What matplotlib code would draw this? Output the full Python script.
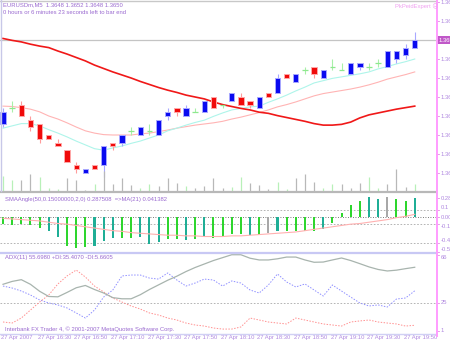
import matplotlib
matplotlib.use("Agg")
import matplotlib.pyplot as plt
from matplotlib.lines import Line2D

W, H = 450, 345

# EURUSDm M5 bars, 27 Apr 2007, 16:10 .. 19:55
opens = [1.3628, 1.3632, 1.3633, 1.3629, 1.3628, 1.3625, 1.3623, 1.3621, 1.3617, 1.3615,
         1.3617, 1.3617, 1.3623, 1.3623, 1.3626, 1.3625, 1.3626, 1.3625, 1.3630, 1.3632,
         1.3630, 1.3631, 1.3631, 1.3635, 1.3633, 1.3634, 1.3635, 1.3634, 1.3632, 1.3636,
         1.3636, 1.3641, 1.3639, 1.3642, 1.3643, 1.3640, 1.3643, 1.3642, 1.3641, 1.3643,
         1.3643, 1.3644, 1.3643, 1.3645, 1.3646, 1.3648]
highs = [1.3632, 1.3634, 1.3634, 1.3630, 1.3628, 1.3625, 1.3624, 1.3621, 1.3618, 1.3616,
         1.3617, 1.3622, 1.3623, 1.3625, 1.3627, 1.3627, 1.3628, 1.3629, 1.3632, 1.3632,
         1.3633, 1.3632, 1.3634, 1.3635, 1.3633, 1.3636, 1.3636, 1.3634, 1.3635, 1.3636,
         1.3641, 1.3641, 1.3641, 1.3643, 1.3643, 1.3642, 1.3645, 1.3644, 1.3644, 1.3644,
         1.3644, 1.3645, 1.3647, 1.3647, 1.3649, 1.3652]
lows = [1.3627, 1.3631, 1.3630, 1.3626, 1.3623, 1.3624, 1.3622, 1.3618, 1.3615, 1.3615,
        1.3616, 1.3614, 1.3621, 1.3622, 1.3625, 1.3625, 1.3625, 1.3625, 1.3629, 1.3630,
        1.3630, 1.3631, 1.3631, 1.3632, 1.3632, 1.3634, 1.3633, 1.3632, 1.3632, 1.3635,
        1.3636, 1.3640, 1.3639, 1.3641, 1.3640, 1.3640, 1.3642, 1.3642, 1.3641, 1.3642,
        1.3642, 1.3643, 1.3643, 1.3644, 1.3645, 1.3648]
closes = [1.3631, 1.3632, 1.3630, 1.3627, 1.3624, 1.3624, 1.3622, 1.3618, 1.3616, 1.3616,
          1.3616, 1.3622, 1.3622, 1.3625, 1.3626, 1.3627, 1.3626, 1.3629, 1.3631, 1.3631,
          1.3632, 1.3631, 1.3634, 1.3632, 1.3633, 1.3636, 1.3633, 1.3633, 1.3635, 1.3635,
          1.3640, 1.3640, 1.3641, 1.3642, 1.3641, 1.3642, 1.3643, 1.3642, 1.3644, 1.3644,
          1.3643, 1.3644, 1.3647, 1.3647, 1.3648, 1.3650]
volumes = [30, 22, 22, 34, 28, 6, 4, 26, 22, 2, 14, 40, 14, 26, 12, 6, 14, 10, 26, 16,
           10, 6, 10, 26, 6, 8, 28, 16, 12, 4, 18, 4, 26, 34, 18, 6, 14, 14, 6, 16,
           28, 6, 14, 44, 8, 14]
volume_up = [1, 1, 0, 0, 1, 1, 1, 0, 0, 0, 1, 0, 0, 0, 0, 1, 1, 0, 0, 0, 1, 0, 0, 0, 0,
             1, 1, 0, 0, 0, 1, 1, 0, 0, 0, 1, 1, 0, 0, 0, 1, 1, 0, 0, 0, 1]

ma_slow = [1.36504, 1.36499, 1.36495, 1.36489, 1.36484, 1.36480, 1.36471, 1.36463, 1.36454, 1.36445,
           1.36434, 1.36425, 1.36416, 1.36408, 1.36400, 1.36391, 1.36383, 1.36375, 1.36368, 1.36362,
           1.36355, 1.36350, 1.36345, 1.36337, 1.36330, 1.36325, 1.36320, 1.36316, 1.36310, 1.36307,
           1.36301, 1.36296, 1.36291, 1.36286, 1.36280, 1.36276, 1.36276, 1.36278, 1.36284, 1.36295,
           1.36303, 1.36308, 1.36313, 1.36318, 1.36322, 1.36326]
ma_mid = [1.36326, 1.36325, 1.36322, 1.36318, 1.36311, 1.36300, 1.36292, 1.36282, 1.36271, 1.36261,
          1.36255, 1.36251, 1.36250, 1.36250, 1.36250, 1.36253, 1.36255, 1.36259, 1.36263, 1.36268,
          1.36272, 1.36276, 1.36279, 1.36282, 1.36286, 1.36292, 1.36297, 1.36303, 1.36309, 1.36316,
          1.36324, 1.36330, 1.36337, 1.36345, 1.36353, 1.36359, 1.36363, 1.36367, 1.36371, 1.36376,
          1.36382, 1.36389, 1.36397, 1.36403, 1.36409, 1.36416]
ma_fast = [1.36268, 1.36274, 1.36280, 1.36280, 1.36274, 1.36264, 1.36255, 1.36245, 1.36234, 1.36224,
           1.36214, 1.36210, 1.36216, 1.36221, 1.36228, 1.36234, 1.36242, 1.36250, 1.36261, 1.36268,
           1.36276, 1.36283, 1.36289, 1.36299, 1.36308, 1.36316, 1.36320, 1.36324, 1.36326, 1.36336,
           1.36345, 1.36355, 1.36366, 1.36376, 1.36387, 1.36393, 1.36399, 1.36403, 1.36407, 1.36411,
           1.36416, 1.36424, 1.36430, 1.36437, 1.36443, 1.36450]

# SMAAngle histogram and its MA(21)
sma_angle = [-0.11, -0.13, -0.11, -0.13, -0.17, -0.22, -0.30, -0.45, -0.48, -0.46,
             -0.45, -0.37, -0.32, -0.33, -0.33, -0.30, -0.42, -0.38, -0.34, -0.34,
             -0.35, -0.34, -0.30, -0.32, -0.30, -0.26, -0.26, -0.27, -0.27, -0.25,
             -0.22, -0.22, -0.22, -0.21, -0.21, -0.19, -0.09, 0.06, 0.18, 0.25,
             0.30, 0.28, 0.31, 0.28, 0.25, 0.287508]
angle_kind = list("ggggg" "ttggg" "tttgg" "tttgg" "tgtgg" "ggtgk" "tgggg" "tgggg" "ttkgg" "t")
angle_ma = [-0.02, -0.03, -0.04, -0.05, -0.06, -0.08, -0.10, -0.11, -0.13, -0.15,
            -0.17, -0.19, -0.21, -0.22, -0.24, -0.25, -0.26, -0.27, -0.28, -0.28,
            -0.29, -0.29, -0.30, -0.30, -0.30, -0.29, -0.29, -0.28, -0.27, -0.26,
            -0.25, -0.24, -0.23, -0.21, -0.19, -0.17, -0.15, -0.13, -0.11, -0.10,
            -0.08, -0.06, -0.04, -0.01, 0.01, 0.041382]
angle_levels = [0.1, -0.1, -0.4]

# ADX(11)
adx = [41.0, 43.5, 45.0, 41.0, 35.0, 30.5, 30.2, 34.0, 38.0, 40.0,
       36.5, 33.5, 29.5, 28.5, 28.5, 32.0, 36.5, 40.5, 44.5, 48.0,
       52.0, 55.5, 58.5, 61.5, 64.0, 66.5, 66.5, 63.5, 62.0, 62.0,
       63.0, 64.5, 64.5, 62.0, 60.0, 60.2, 62.0, 63.7, 61.5, 58.8,
       56.0, 53.8, 52.5, 53.2, 54.5, 55.698]
plus_di = [39.5, 37.8, 35.2, 31.8, 27.5, 24.9, 23.2, 20.6, 16.3, 11.9,
           18.8, 30.0, 36.1, 48.2, 49.0, 49.0, 46.4, 45.5, 50.8, 44.7,
           39.5, 42.1, 45.5, 44.7, 39.5, 43.9, 42.1, 36.1, 33.5, 40.4,
           49.9, 43.0, 38.7, 41.3, 36.1, 30.9, 40.4, 35.2, 30.0, 24.9,
           22.3, 23.2, 21.4, 28.3, 29.2, 35.407]
minus_di = [8.5, 7.6, 11.9, 18.8, 25.7, 31.8, 41.3, 48.2, 53.3, 47.3,
            39.5, 34.4, 29.2, 25.7, 22.3, 19.7, 16.3, 14.5, 11.9, 10.2,
            7.6, 5.9, 5.0, 3.3, 2.4, 2.4, 4.2, 11.9, 10.2, 8.5,
            7.6, 6.8, 11.9, 10.2, 8.5, 6.8, 5.9, 5.0, 8.5, 9.4,
            10.2, 8.5, 7.6, 6.8, 5.0, 5.6605]
adx_level = 25

price_ticks = [1.3660, 1.3655, 1.3645, 1.3640, 1.3635, 1.3630, 1.3625, 1.3620, 1.3615]
angle_ticks = [0.288, 0.1, 0.0, -0.1, -0.4, -0.54]
angle_tick_labels = ["0.288", "0.1", "0.00", "-0.1", "-0.4", "-0.54"]
adx_ticks = [66, 25, 1]
time_idx = [0, 4, 8, 12, 16, 20, 24, 28, 32, 36, 40, 44]
time_labels = ["27 Apr 2007", "27 Apr 16:30", "27 Apr 16:50", "27 Apr 17:10", "27 Apr 17:30",
               "27 Apr 17:50", "27 Apr 18:10", "27 Apr 18:30", "27 Apr 18:50", "27 Apr 19:10",
               "27 Apr 19:30", "27 Apr 19:50"]

TXT = "#9a6ad0"
AXT = "#b088e0"
FS = 4.2
plt.rcParams["font.family"] = ["Liberation Sans", "DejaVu Sans"]


def rect(x0, y0, x1, y1):
    return [x0 / W, 1 - y1 / H, (x1 - x0) / W, (y1 - y0) / H]


def hline_px(fig, x0, x1, y, color, lw):
    fig.add_artist(Line2D([x0 / W, x1 / W], [1 - y / H, 1 - y / H], color=color, lw=lw,
                          transform=fig.transFigure))


def vline_px(fig, x, y0, y1, color, lw):
    fig.add_artist(Line2D([x / W, x / W], [1 - y0 / H, 1 - y1 / H], color=color, lw=lw,
                          transform=fig.transFigure))


def right_labels(ax, values, labels, vas=None):
    tr = ax.get_yaxis_transform()
    vas = vas or ["center"] * len(values)
    for v, s, va in zip(values, labels, vas):
        ax.plot([1.0, 1.007], [v, v], color="#e090e0", lw=0.6, transform=tr, clip_on=False)
        ax.text(1.011, v, s, transform=tr, fontsize=FS, color=AXT, va=va,
                ha="left", clip_on=False)


fig = plt.figure(figsize=(W / 100, H / 100), dpi=100, facecolor="white")
n = len(closes)
idx = list(range(n))
xlim = (-3 / 9.15, 433 / 9.15)

# ---- price window ----
ax = fig.add_axes(rect(0, 0, 436, 191))
ax.set_xlim(*xlim)
ax.set_ylim(1.3650 - 151 * 0.0005 / 19, 1.3650 + 40 * 0.0005 / 19)
ax.set_axis_off()

axv = ax.twinx()
axv.set_xlim(*xlim)
axv.set_ylim(0, 382)
axv.set_axis_off()
axv.vlines(idx, 0, volumes, colors=["#b8f0b8" if u else "#b8b8b8" for u in volume_up], lw=0.9)

ax.axhline(closes[-1], color="#c4c4c4", lw=0.9, zorder=1)
ax.plot(idx, ma_mid, color="#ffb4b4", lw=0.8, zorder=2)
ax.plot(idx, ma_fast, color="#aef5ea", lw=0.8, zorder=2)
ax.plot(idx, ma_slow, color="#f01818", lw=1.2, zorder=2)

for i in idx:
    o, h, l, c = opens[i], highs[i], lows[i], closes[i]
    if c > o:
        body, edge, wick = "#0a0af0", "#a8a8ff", "#a8a8ff"
    elif c < o:
        body, edge, wick = "#f00a0a", "#ffa8a8", "#ff9c9c"
    else:
        ax.vlines(i, l, h, color="#a8f0a8", lw=0.8, zorder=3)
        ax.hlines(c, i - 0.3, i + 0.3, color="#8ee88e", lw=0.9, zorder=3)
        continue
    ax.vlines(i, l, h, color=wick, lw=0.8, zorder=3)
    ax.bar(i, abs(c - o), bottom=min(o, c), width=0.58, color=body, edgecolor=edge,
           lw=0.7, zorder=4)

right_labels(ax, price_ticks, [f"{p:.4f}" for p in price_ticks])
ax.text(1.006, closes[-1], f"{closes[-1]:.4f}", transform=ax.get_yaxis_transform(),
        fontsize=FS, color="white", va="center", ha="left", clip_on=False, zorder=6,
        bbox=dict(boxstyle="square,pad=0.3", fc="#c058c8", ec="none"))

fig.text(3 / W, 1 - 5 / H, f"EURUSDm,M5  {opens[-1]:.4f} {highs[-1]:.4f} {lows[-1]:.4f} {closes[-1]:.4f}",
         fontsize=FS, color=TXT, va="center")
fig.text(3 / W, 1 - 12.5 / H, "0 hours or 6 minutes 23 seconds left to bar end",
         fontsize=FS, color=TXT, va="center")
fig.text(395 / W, 1 - 6 / H, "PkPeidExpert \u2639", fontsize=FS, color="#f0a0f0", va="center")

# ---- SMAAngle window ----
ax2 = fig.add_axes(rect(0, 193, 436, 252))
ax2.set_xlim(*xlim)
ax2.set_ylim(-0.538, 0.369)
ax2.set_axis_off()
for lv in angle_levels:
    ax2.axhline(lv, color="#a8a8a8", lw=0.6, ls=(0, (2, 2)), zorder=1)
ax2.axhline(0, color="#505050", lw=0.6, ls=(0, (1, 2)), zorder=1)
kind_color = {"g": "#2ed62e", "t": "#1fae96", "k": "#a8a8a8"}
ax2.bar(idx, sma_angle, width=0.22, color=[kind_color[k] for k in angle_kind], zorder=2)
ax2.plot(idx, angle_ma, color="#ffb0b0", lw=0.8, zorder=3)
right_labels(ax2, angle_ticks, angle_tick_labels,
             ["center", "bottom", "center", "top", "bottom", "bottom"])
fig.text(5 / W, 1 - 199 / H,
         f"SMAAngle(50,0.15000000,2,0) {sma_angle[-1]:.6f}  =>MA(21) {angle_ma[-1]:.6f}",
         fontsize=FS, color=TXT, va="center")

# ---- ADX window ----
ax3 = fig.add_axes(rect(0, 253, 436, 333))
ax3.set_xlim(*xlim)
ax3.set_ylim(-1, 68)
ax3.set_axis_off()
ax3.axhline(adx_level, color="#a8a8a8", lw=0.6, ls=(0, (2, 2)), zorder=1)
ax3.plot(idx, adx, color="#a8b4ae", lw=0.9, zorder=3)
ax3.plot(idx, plus_di, color="#9090ff", lw=0.7, ls=(0, (1.5, 1.5)), zorder=2)
ax3.plot(idx, minus_di, color="#ff9090", lw=0.7, ls=(0, (1.5, 1.5)), zorder=2)
right_labels(ax3, adx_ticks, [str(t) for t in adx_ticks], ["top", "center", "center"])
fig.text(5 / W, 1 - 257 / H,
         f"ADX(11) {adx[-1]:.4f} +DI:{plus_di[-1]:.4f} -DI:{minus_di[-1]:.4f}",
         fontsize=FS, color=TXT, va="center")
fig.text(5 / W, 1 - 329.5 / H,
         "Interbank FX Trader 4, \u00a9 2001-2007 MetaQuotes Software Corp.",
         fontsize=FS, color=TXT, va="center")

# time scale
for i, s in zip(time_idx, time_labels):
    ax3.text(i - 0.2, -0.025, s, transform=ax3.get_xaxis_transform(), fontsize=FS,
             color=AXT, va="top", ha="left", clip_on=False)

# window frames
hline_px(fig, 0, 436, 0.5, "#c8c8c8", 1.0)
hline_px(fig, 0, 436, 192, "#b8b8b8", 1.6)
hline_px(fig, 0, 436, 252.5, "#c8c8f4", 1.6)
hline_px(fig, 0, 436, 333.5, "#d0d0f4", 1.0)
vline_px(fig, 0.5, 0, 191, "#c8c8e8", 1.0)
vline_px(fig, 436.5, 0, 336, "#ff9cff", 1.4)

fig.savefig("out.png", dpi=100, facecolor="white")
